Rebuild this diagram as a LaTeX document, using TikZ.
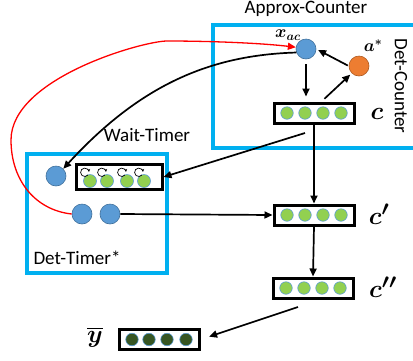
\documentclass[tikz,border=0pt]{standalone}
\usepackage{fontspec}
\setmainfont{Carlito}
\usepackage{amsmath,bm}
\usetikzlibrary{arrows.meta,calc}
\definecolor{cyanb}{HTML}{00B0F0}
\definecolor{bluef}{HTML}{5B9BD5}
\definecolor{bluee}{HTML}{41719C}
\definecolor{orangef}{HTML}{ED7D31}
\definecolor{orangee}{HTML}{AE5A21}
\definecolor{greenf}{HTML}{92D050}
\definecolor{dgreen}{HTML}{375623}
\tikzset{
  frame/.style={draw=cyanb, line width=4pt},
  bdot/.style={circle, fill=bluef, draw=bluee, line width=0.6pt, minimum size=20pt, inner sep=0pt},
  odot/.style={circle, fill=orangef, draw=orangee, line width=0.6pt, minimum size=20pt, inner sep=0pt},
  gdot/.style={circle, fill=greenf, draw=bluef, line width=0.6pt, minimum size=12.5pt, inner sep=0pt},
  ddot/.style={circle, fill=dgreen, draw=bluef, line width=0.6pt, minimum size=12.5pt, inner sep=0pt},
  vec/.style={draw, line width=3pt, fill=white, minimum width=80pt, minimum height=20pt, inner sep=0pt},
  arr/.style={-{Triangle[length=8pt,width=7pt]}, line width=1.7pt},
  lbl/.style={font=\fontsize{19}{19}\selectfont, inner sep=0pt},
  mlbl/.style={font=\fontsize{30}{30}\selectfont, inner sep=0pt},
  loop/.style={-{Stealth[length=3pt,width=3pt]}, line width=0.7pt}
}
\begin{document}
\begin{tikzpicture}[x=1pt,y=-1pt]
\useasboundingbox (0,0) rectangle (413,360);
% frames
\draw[frame] (416,25) -- (213,25) -- (213,148) -- (416,148);
\draw[frame] (27,154) rectangle (167,273);
\node[lbl] (tAC) at (306,9) {Approx-Counter};
\node[lbl, rotate=-90] (tDC) at (401,86) {Det-Counter};
\node[lbl] (tWT) at (147,135) {Wait-Timer};
\node[lbl] (tDT) at (77,258) {Det-Timer*};
% counter part
\node[bdot] (xac) at (306,49) {};
\node[odot] (ast) at (359,66) {};
\node[inner sep=0pt, font=\fontsize{18}{18}\selectfont] (lxac) at (288,35) {$\bm{x_{ac}}$};
\node[inner sep=0pt, font=\fontsize{18}{18}\selectfont] (last) at (373,46) {$\bm{a^{*}}$};
\node[vec] (c) at (314,113) {};
\foreach \i/\dx in {1/-27,2/-9,3/9,4/27} \node[gdot] (c\i) at ($(c)+(\dx,0)$) {};
\node[mlbl] (lc) at (377,114) {$\bm{c}$};
\node[vec] (cp) at (314,215) {};
\foreach \i/\dx in {1/-27,2/-9,3/9,4/27} \node[gdot] (cp\i) at ($(cp)+(\dx,0)$) {};
\node[mlbl] (lcp) at (379,214) {$\bm{c'}$};
\node[vec] (cpp) at (313,288) {};
\foreach \i/\dx in {1/-27,2/-9,3/9,4/27} \node[gdot] (cpp\i) at ($(cpp)+(\dx,0)$) {};
\node[mlbl] (lcpp) at (383,287) {$\bm{c''}$};
\node[vec] (yb) at (159,339.5) {};
\foreach \i/\x in {1/132,2/149,3/167,4/186} \node[ddot] (yb\i) at (\x,339.5) {};
\node[inner sep=0pt, font=\fontsize{25}{25}\selectfont] (lyb) at (95,337) {$\overline{\bm{y}}$};
% timer part
\node[bdot] (tl) at (56,176) {};
\node[bdot] (dl) at (82,214) {};
\node[bdot] (dr) at (110,214) {};
\node[vec, minimum width=86pt, minimum height=25pt] (wt) at (119,177) {};
\foreach \i/\x in {1/90,2/107,3/127,4/144} {
  \node[gdot, minimum size=13pt] (w\i) at (\x,181) {};
  \draw[loop] ($(w\i)+(-2,-6)$) arc[start angle=40, end angle=355, radius=4.2];
}
% arrows
\coordinate (cs) at (305,133);
\coordinate (ccs) at (298,307);
\draw[arr, shorten <=5pt, shorten >=5pt] (xac) -- (c.north -| xac);
\draw[arr, shorten <=1pt, shorten >=2pt] (ast.west) -- (xac.east);
\draw[arr, shorten <=4pt, shorten >=2pt] (c.north east) ++(-34,0) -- (ast.south west);
\draw[arr] (c.south) -- (cp.north);
\draw[arr] (cp.south) -- (cpp.north);
\draw[arr, shorten >=9pt] (ccs) -- (yb.east);
\draw[arr] (dr.east) -- (cp.west);
\draw[arr] (cs) -- (wt.east);
\draw[arr] (xac.200) .. controls (210,55) and (140,85) .. (tl.north east);
\draw[arr, red, line width=1.3pt] (dl.west) .. controls (35,210) and (11,180) .. (11,140)
  .. controls (11,78) and (143,41) .. (167,41)
  .. controls (210,41) and (260,43) .. (xac.170);
\end{tikzpicture}
\end{document}
